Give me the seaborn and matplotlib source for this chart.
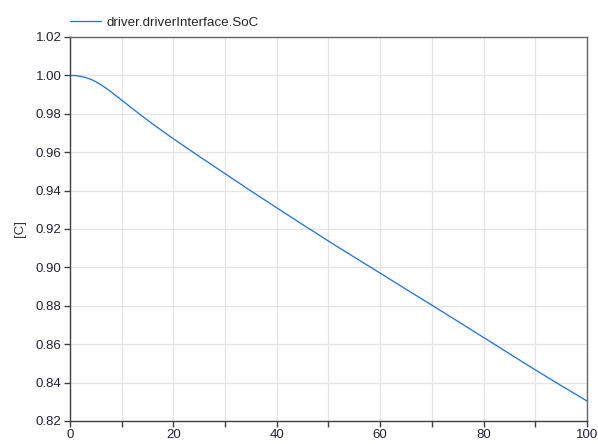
import matplotlib
matplotlib.use("Agg")
import matplotlib.pyplot as plt
import seaborn as sns
import pandas as pd
from matplotlib.ticker import MultipleLocator, FormatStrFormatter

time_s = [0, 1, 2, 3, 4, 5, 6, 7, 8, 9, 10, 12, 14, 16, 18, 20, 25, 30, 35, 40,
          45, 50, 55, 60, 65, 70, 75, 80, 85, 90, 95, 100]
soc = [1.0000, 0.9999, 0.9995, 0.9989, 0.9980, 0.9967, 0.9951, 0.9933, 0.9913,
       0.9892, 0.9871, 0.9829, 0.9787, 0.9747, 0.9708, 0.9670, 0.9578, 0.9488,
       0.9398, 0.9310, 0.9223, 0.9137, 0.9053, 0.8970, 0.8886, 0.8803, 0.8719,
       0.8635, 0.8550, 0.8466, 0.8384, 0.8304]
series_label = "driver.driverInterface.SoC"

df = pd.DataFrame({"time": time_s, "soc": soc})

sns.set_style("whitegrid")
plt.rcParams["font.family"] = ["Liberation Sans", "DejaVu Sans"]

fig = plt.figure(figsize=(5.98, 4.44), dpi=100)
ax = fig.add_axes([0.117, 0.052, 0.8645, 0.8647])

sns.lineplot(data=df, x="time", y="soc", ax=ax, color="#1a6fdc", linewidth=0.9,
             label=series_label)

ax.set_xlim(0, 100)
ax.set_ylim(0.82, 1.02)
ax.xaxis.set_major_locator(MultipleLocator(20))
ax.xaxis.set_minor_locator(MultipleLocator(10))
ax.yaxis.set_major_locator(MultipleLocator(0.02))
ax.yaxis.set_major_formatter(FormatStrFormatter("%.2f"))
ax.grid(True, which="both", color="#e4e4e4", linewidth=0.9)
ax.set_xlabel("")
ax.set_ylabel("[C]", fontsize=9.5, color="#333333", labelpad=7)

for name, s in ax.spines.items():
    s.set_color("#404040" if name in ("left", "bottom") else "#666666")
    s.set_linewidth(1.0)

ax.tick_params(axis="both", which="major", direction="out", length=4, width=1,
               color="#404040", labelsize=9.5, labelcolor="#222233",
               bottom=True, left=True, pad=2)
ax.tick_params(axis="x", which="minor", direction="out", length=4, width=1,
               color="#404040", bottom=True)

leg = ax.legend(loc="lower left", bbox_to_anchor=(0.0, 1.022), frameon=False,
                fontsize=9.6, handlelength=2.3, borderaxespad=0.0, borderpad=0.0,
                handletextpad=0.45)

fig.savefig("out.png", dpi=100)
